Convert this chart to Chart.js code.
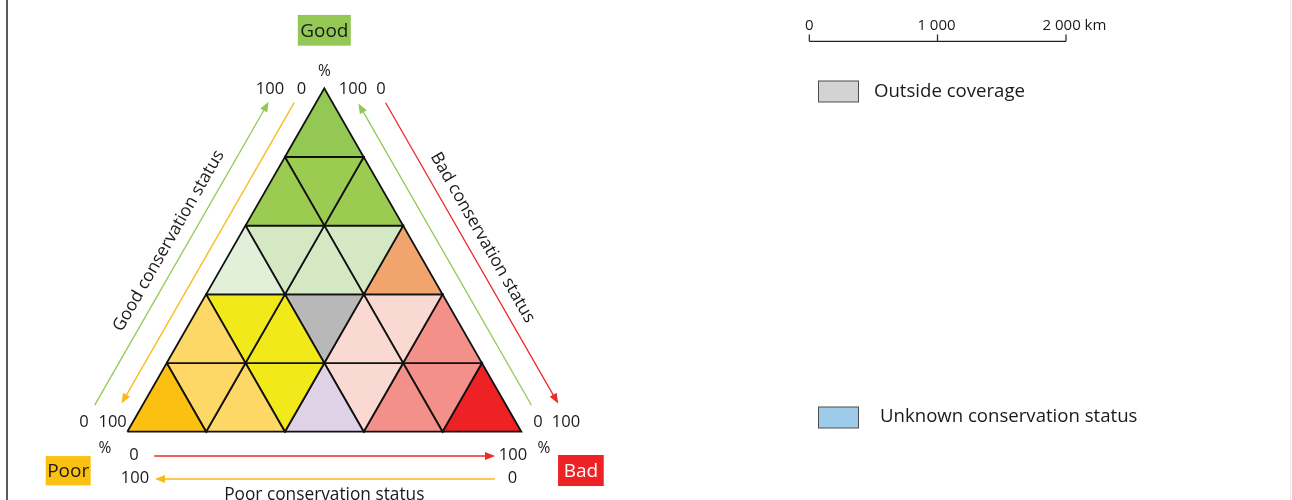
<!DOCTYPE html>
<html>
<head>
<meta charset="utf-8">
<script src="https://cdn.jsdelivr.net/npm/chart.js@4.4.1/dist/chart.umd.min.js"></script>
<style>
html, body { margin: 0; padding: 0; background: #fff; }
#wrap { position: relative; width: 1292px; height: 500px; }
</style>
</head>
<body>
<div id="wrap"><canvas id="chart" width="1292" height="500"></canvas></div>
<script>
// cell colours, top row first, left to right (up, down, up, ...)
const rowColors = [
    ['#92c853'],
    ['#9ccb51', '#9ccb51', '#9ccb51'],
    ['#e2efd9', '#d5e8c4', '#d5e8c4', '#d5e8c4', '#f2a46f'],
    ['#fdd866', '#f2e91a', '#f2e91a', '#b8b8b8', '#fbd9d3', '#fbd9d3', '#f4908a'],
    ['#fcc012', '#fdd866', '#fdd866', '#f2e91a', '#e0d2e6', '#fbd9d3', '#f4908a', '#f4908a', '#ee2225']
];
const cornerLabels = ['Good', 'Poor', 'Bad'];
const cornerColors = ['#92c853', '#fcc012', '#ee2225'];
const sideTitles = ['Good conservation status', 'Bad conservation status', 'Poor conservation status'];
const tickLabels = ['0', '100', '%'];
const scaleBarLabels = ['0', '1 000', '2 000 km'];
const legendLabels = ['Outside coverage', 'Unknown conservation status'];
const legendColors = ['#d3d3d3', '#9fcbea'];

const green = '#92c853', orange = '#fbb817', red = '#ee2a2a';
const ink = '#1a1a1a';

const n = rowColors.length;
const side = 100;
const h = side * Math.sqrt(3) / 2;
const step = side / n;

let datasets = [];
rowColors.forEach((row, r) => {
    const yTop = h * (n - r) / n;
    const yBot = h * (n - r - 1) / n;
    row.forEach((color, i) => {
        let pts;
        if (i % 2 == 0) {
            const x0 = side / 2 - (r + 1) * step / 2 + (i / 2) * step;
            pts = [{x: x0, y: yBot}, {x: x0 + step, y: yBot}, {x: x0 + step / 2, y: yTop}, {x: x0, y: yBot}];
        } else {
            const x0 = side / 2 - r * step / 2 + ((i - 1) / 2) * step;
            pts = [{x: x0, y: yTop}, {x: x0 + step, y: yTop}, {x: x0 + step / 2, y: yBot}, {x: x0, y: yTop}];
        }
        datasets.push({
            data: pts,
            backgroundColor: color,
            borderColor: '#111',
            borderWidth: 1.8,
            borderJoinStyle: 'miter',
            fill: 'shape',
            showLine: true,
            pointRadius: 0
        });
    });
});

function font(size) {
    return size + 'px "Open Sans"';
}

function label(ctx, str, x, y, size, color, align) {
    ctx.font = font(size);
    ctx.fillStyle = color || ink;
    ctx.textAlign = align || 'center';
    ctx.textBaseline = 'middle';
    ctx.fillText(str, x, y + 1);
}

function arrow(ctx, p, q, color) {
    const dx = q.x - p.x, dy = q.y - p.y;
    const len = Math.hypot(dx, dy);
    const ux = dx / len, uy = dy / len;
    const hl = 10, hw = 4;
    ctx.strokeStyle = color;
    ctx.lineWidth = 1.3;
    ctx.beginPath();
    ctx.moveTo(p.x, p.y);
    ctx.lineTo(q.x - ux * hl * 0.8, q.y - uy * hl * 0.8);
    ctx.stroke();
    ctx.fillStyle = color;
    ctx.beginPath();
    ctx.moveTo(q.x, q.y);
    ctx.lineTo(q.x - ux * hl - uy * hw, q.y - uy * hl + ux * hw);
    ctx.lineTo(q.x - ux * hl + uy * hw, q.y - uy * hl - ux * hw);
    ctx.closePath();
    ctx.fill();
}

function box(ctx, cx, cy, w, hgt, fillColor, str, textColor) {
    ctx.fillStyle = fillColor;
    ctx.fillRect(cx - w / 2, cy - hgt / 2, w, hgt);
    label(ctx, str, cx, cy, 19, textColor);
}

const decor = {
    id: 'decor',
    afterDatasetsDraw(chart) {
        const {ctx, scales: {x, y}} = chart;
        const P = (a, b) => ({x: x.getPixelForValue(a), y: y.getPixelForValue(b)});
        const A = P(side / 2, h), L = P(0, 0), R = P(side, 0);

        // point along a side, pushed outwards
        const lenL = Math.hypot(A.x - L.x, A.y - L.y);
        const uL = {x: (A.x - L.x) / lenL, y: (A.y - L.y) / lenL};
        const nL = {x: uL.y, y: -uL.x};
        const onL = (s, o) => ({x: L.x + uL.x * s + nL.x * o, y: L.y + uL.y * s + nL.y * o});
        const lenR = Math.hypot(A.x - R.x, A.y - R.y);
        const uR = {x: (A.x - R.x) / lenR, y: (A.y - R.y) / lenR};
        const nR = {x: -uR.y, y: uR.x};
        const onR = (s, o) => ({x: R.x + uR.x * s + nR.x * o, y: R.y + uR.y * s + nR.y * o});

        ctx.save();

        // frame lines
        ctx.fillStyle = '#5a5a5a';
        ctx.fillRect(6, 0, 2, chart.height);
        ctx.fillStyle = '#e6e6e6';
        ctx.fillRect(1290, 0, 1, chart.height);

        // arrows
        arrow(ctx, onL(6.8, 41.5), onL(356.5, 41.5), green);
        arrow(ctx, onL(368.5, 19), onL(21.6, 19), orange);
        arrow(ctx, onR(17.9, 22), onR(365.8, 22), green);
        arrow(ctx, onR(352.9, 46), onR(6.1, 46), red);
        arrow(ctx, {x: L.x + 27, y: L.y + 24.3}, {x: L.x + 367.7, y: L.y + 24.3}, red);
        arrow(ctx, {x: L.x + 367.7, y: L.y + 47.3}, {x: L.x + 27.7, y: L.y + 47.3}, orange);

        // top corner
        label(ctx, tickLabels[2], A.x, A.y - 18, 15.5);
        label(ctx, tickLabels[1], A.x - 54.3, A.y, 16.5);
        label(ctx, tickLabels[0], A.x - 22.8, A.y, 16.5);
        label(ctx, tickLabels[1], A.x + 28.7, A.y, 16.5);
        label(ctx, tickLabels[0], A.x + 56.7, A.y, 16.5);
        box(ctx, A.x, A.y - 58, 53, 30.7, cornerColors[0], cornerLabels[0], ink);

        // left corner
        label(ctx, tickLabels[0], L.x - 43.3, L.y - 10.2, 16.5);
        label(ctx, tickLabels[1], L.x - 14.7, L.y - 10.2, 16.5);
        label(ctx, tickLabels[2], L.x - 22.3, L.y + 16.3, 15.5);
        label(ctx, tickLabels[0], L.x + 6.7, L.y + 22.3, 16.5);
        label(ctx, tickLabels[1], L.x + 7.7, L.y + 45.3, 16.5);
        box(ctx, L.x - 59.1, L.y + 39, 45, 29.3, cornerColors[1], cornerLabels[1], ink);

        // right corner
        label(ctx, tickLabels[0], R.x + 16.7, R.y - 10.2, 16.5);
        label(ctx, tickLabels[1], R.x + 44.7, R.y - 10.2, 16.5);
        label(ctx, tickLabels[2], R.x + 22.7, R.y + 15.8, 15.5);
        label(ctx, tickLabels[1], R.x - 8.3, R.y + 22.3, 16.5);
        label(ctx, tickLabels[0], R.x - 8.8, R.y + 45.3, 16.5);
        box(ctx, R.x + 59.6, R.y + 38.8, 45.7, 31, cornerColors[2], cornerLabels[2], '#ffffff');

        // side titles
        const pl = onL(186.2, 59);
        ctx.save();
        ctx.translate(pl.x, pl.y);
        ctx.rotate(Math.atan2(uL.y, uL.x));
        label(ctx, sideTitles[0], 0, -1, 17.3);
        ctx.restore();
        const pr = onR(187.6, 63);
        ctx.save();
        ctx.translate(pr.x, pr.y);
        ctx.rotate(Math.atan2(-uR.y, -uR.x));
        label(ctx, sideTitles[1], 0, -1, 17.3);
        ctx.restore();
        label(ctx, sideTitles[2], (L.x + R.x) / 2, L.y + 62, 17.3);

        // scale bar
        const sb = [809.3, 937.5, 1066];
        ctx.strokeStyle = '#222';
        ctx.lineWidth = 1.2;
        ctx.beginPath();
        ctx.moveTo(sb[0], 41.3);
        ctx.lineTo(sb[2], 41.3);
        sb.forEach(v => { ctx.moveTo(v, 34.5); ctx.lineTo(v, 41.3); });
        ctx.stroke();
        label(ctx, scaleBarLabels[0], sb[0], 24.5, 15);
        label(ctx, scaleBarLabels[1], sb[1] - 1, 24.5, 15);
        label(ctx, scaleBarLabels[2], sb[2] - 23.5, 24.5, 15, ink, 'left');

        // legend boxes
        const lg = [91.5, 417.5];
        lg.forEach((cy, i) => {
            ctx.fillStyle = legendColors[i];
            ctx.fillRect(818.5, cy - 10.5, 40, 21);
            ctx.strokeStyle = '#4d4d4d';
            ctx.lineWidth = 1;
            ctx.strokeRect(818.5, cy - 10.5, 40, 21);
        });
        label(ctx, legendLabels[0], 874, 90.5, 18.6, ink, 'left');
        label(ctx, legendLabels[1], 880, 416, 18.6, ink, 'left');

        ctx.restore();
    }
};

Chart.defaults.font.family = '"Open Sans"';

function draw() {
    new Chart('chart', {
        type: 'scatter',
        data: { datasets: datasets },
        options: {
            responsive: false,
            animation: false,
            events: [],
            layout: { padding: 0 },
            plugins: {
                legend: { display: false },
                tooltip: { enabled: false }
            },
            scales: {
                x: { type: 'linear', min: -32.31, max: 295.61, display: false },
                y: { type: 'linear', min: -17.22, max: 108.87, display: false }
            }
        },
        plugins: [decor]
    });
}

document.fonts.load(font(16)).then(draw, draw);
</script>
</body>
</html>
